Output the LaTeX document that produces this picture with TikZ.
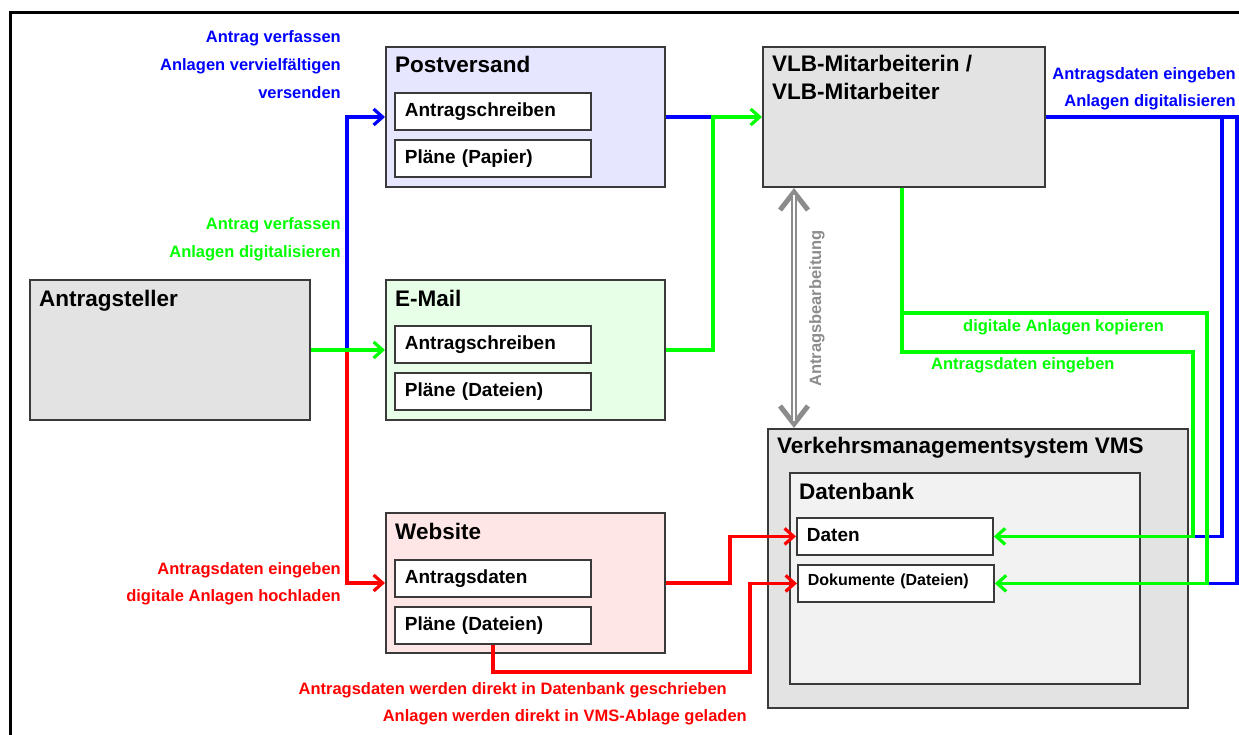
\documentclass[tikz,border=0pt]{standalone}
\usepackage{fontspec}
\setmainfont{Liberation Sans}
\usetikzlibrary{arrows.meta}

\definecolor{boxgray}{HTML}{E3E3E3}
\definecolor{postfill}{HTML}{E6E6FF}
\definecolor{mailfill}{HTML}{E6FFE6}
\definecolor{webfill}{HTML}{FFE6E6}
\definecolor{dbfill}{HTML}{F2F2F2}
\definecolor{edgegray}{HTML}{3A3A3A}
\definecolor{cblue}{HTML}{0000FF}
\definecolor{cgreen}{HTML}{00FF00}
\definecolor{cred}{HTML}{FF0000}
\definecolor{cgray}{HTML}{8C8C8C}

\tikzset{
  box/.style={draw=edgegray, line width=2pt, anchor=north west, inner sep=0pt},
  inbox/.style={draw=edgegray, line width=1.8pt, fill=white, anchor=north west,
    minimum height=37pt, text width=176pt, inner xsep=10pt, inner ysep=0pt,
    align=left, text height=14pt, text depth=4pt,
    font=\fontsize{19}{22}\selectfont\bfseries},
  title/.style={anchor=base west, inner sep=0pt, font=\fontsize{22.5}{27}\selectfont\bfseries},
  lbl/.style={inner sep=0pt, font=\fontsize{16.5}{19}\selectfont\bfseries},
  conn/.style={line width=3.2pt},
  headed/.style={-{Straight Barb[length=9pt,width=16pt]}},
}

\begin{document}
\begin{tikzpicture}[x=1pt,y=-1pt]
\useasboundingbox (0,0) rectangle (1239,735);

% outer frame (top and left edges)
\draw[line width=3pt] (10,740) -- (10,13) -- (1245,13);

% ---------- boxes ----------
\node[box, fill=boxgray, minimum width=280pt, minimum height=140pt] (ast) at (29,279) {};
\node[title] (ast-t) at (39,306) {Antragsteller};

\node[box, fill=postfill, minimum width=279pt, minimum height=140pt] (post) at (385,46) {};
\node[title] (post-t) at (395,73) {Postversand};
\node[inbox] (post1) at (394,92) {Antragschreiben};
\node[inbox] (post2) at (394,139) {Pläne (Papier)};

\node[box, fill=mailfill, minimum width=279pt, minimum height=140pt] (mail) at (385,279) {};
\node[title] (mail-t) at (395,306) {E-Mail};
\node[inbox] (mail1) at (394,325) {Antragschreiben};
\node[inbox] (mail2) at (394,372) {Pläne (Dateien)};

\node[box, fill=webfill, minimum width=279pt, minimum height=140pt] (web) at (385,512) {};
\node[title] (web-t) at (395,539) {Website};
\node[inbox] (web1) at (394,559) {Antragsdaten};
\node[inbox] (web2) at (394,606) {Pläne (Dateien)};

\node[box, fill=boxgray, minimum width=282pt, minimum height=140pt] (vlb) at (762,46) {};
\node[title] (vlb-t1) at (772,72) {VLB-Mitarbeiterin /};
\node[title] (vlb-t2) at (772,100) {VLB-Mitarbeiter};

\node[box, fill=boxgray, minimum width=420pt, minimum height=279pt] (vms) at (767,428) {};
\node[title] (vms-t) at (777,453) {Verkehrsmanagementsystem VMS};
\node[box, fill=dbfill, minimum width=350pt, minimum height=211pt] (db) at (789,472) {};
\node[title] (db-t) at (799,499) {Datenbank};
\node[inbox] (dat) at (796,517) {Daten};
\node[inbox, text height=12pt, text depth=8pt, font=\fontsize{16}{19}\selectfont\bfseries] (dok) at (797,564) {Dokumente (Dateien)};

% ---------- routing coordinates ----------
\coordinate (tx) at (347,0);
\coordinate (jx) at (713,0);
\coordinate (rx1) at (730,0);
\coordinate (rx2) at (750,0);
\coordinate (ry) at (0,672);
\coordinate (gx) at (794,0);
\coordinate (vx) at (902,0);
\coordinate (gy1) at (0,313);
\coordinate (gy2) at (0,352);
\coordinate (gxa) at (1193,0);
\coordinate (gxb) at (1207,0);
\coordinate (bxa) at (1222,0);
\coordinate (bxb) at (1237,0);

% ---------- connectors from the applicant ----------
\draw[conn, cblue, headed] (ast.east -| tx) |- (post.west);
\draw[conn, cred, headed] (ast.east -| tx) |- (web.west);
\draw[conn, cgreen, headed] (ast.east) -- (mail.west);

% post and e-mail to the VLB staff
\draw[conn, cblue] (post.east) -- (post.east -| jx);
\draw[conn, cgreen, headed] (mail.east) -| (jx |- vlb.west) -- (vlb.west);

% website directly into the database
\draw[conn, cred, headed] (web.east) -| (rx1 |- dat.west) -- (dat.west);
\draw[conn, cred, headed] (web2.south) |- (rx2 |- ry) |- (dok.west);

% processing link between staff and VMS
\draw[cgray, line width=6pt, {Straight Barb[length=18pt,width=28pt,line width=5pt]}-{Straight Barb[length=18pt,width=28pt,line width=5pt]}]
  (vlb.south -| gx) -- (vms.north -| gx);
\draw[white, line width=2pt, shorten <=7pt, shorten >=7pt] (vlb.south -| gx) -- (vms.north -| gx);

% staff into the database
\draw[conn, cblue] (vlb.east) -| (bxa |- dat.east) -- (gxa |- dat.east);
\draw[conn, cblue] (vlb.east) -| (bxb |- dok.east) -- (gxb |- dok.east);
\draw[conn, cgreen, headed] (vlb.south -| vx) |- (gxa |- gy2) |- (dat.east);
\draw[conn, cgreen, headed] (vx |- gy1) -| (gxb |- dok.east) -- (dok.east);

% ---------- labels ----------
\node[lbl, cblue, anchor=base east] (lb1) at (341,42.7) {Antrag verfassen};
\node[lbl, cblue, anchor=base east] (lb2) at (341,70.7) {Anlagen vervielfältigen};
\node[lbl, cblue, anchor=base east] (lb3) at (341,98.3) {versenden};

\node[lbl, cgreen, anchor=base east] (lg1) at (341,230) {Antrag verfassen};
\node[lbl, cgreen, anchor=base east] (lg2) at (341,257.3) {Anlagen digitalisieren};

\node[lbl, cred, anchor=base east] (lr1) at (341,574.3) {Antragsdaten eingeben};
\node[lbl, cred, anchor=base east] (lr2) at (341,601.7) {digitale Anlagen hochladen};

\node[lbl, cred, anchor=base east] (lr3) at (727,694.3) {Antragsdaten werden direkt in Datenbank geschrieben};
\node[lbl, cred, anchor=base east] (lr4) at (747,721.7) {Anlagen werden direkt in VMS-Ablage geladen};

\node[lbl, cblue, anchor=base east] (lb4) at (1236,80) {Antragsdaten eingeben};
\node[lbl, cblue, anchor=base east] (lb5) at (1236,106.7) {Anlagen digitalisieren};

\node[lbl, cgreen, anchor=base west] (lg3) at (963,331.7) {digitale Anlagen kopieren};
\node[lbl, cgreen, anchor=base west] (lg4) at (931,369.3) {Antragsdaten eingeben};

\node[lbl, cgray, rotate=90, anchor=base west] (lgr) at (821,387) {Antragsbearbeitung};
\end{tikzpicture}
\end{document}
